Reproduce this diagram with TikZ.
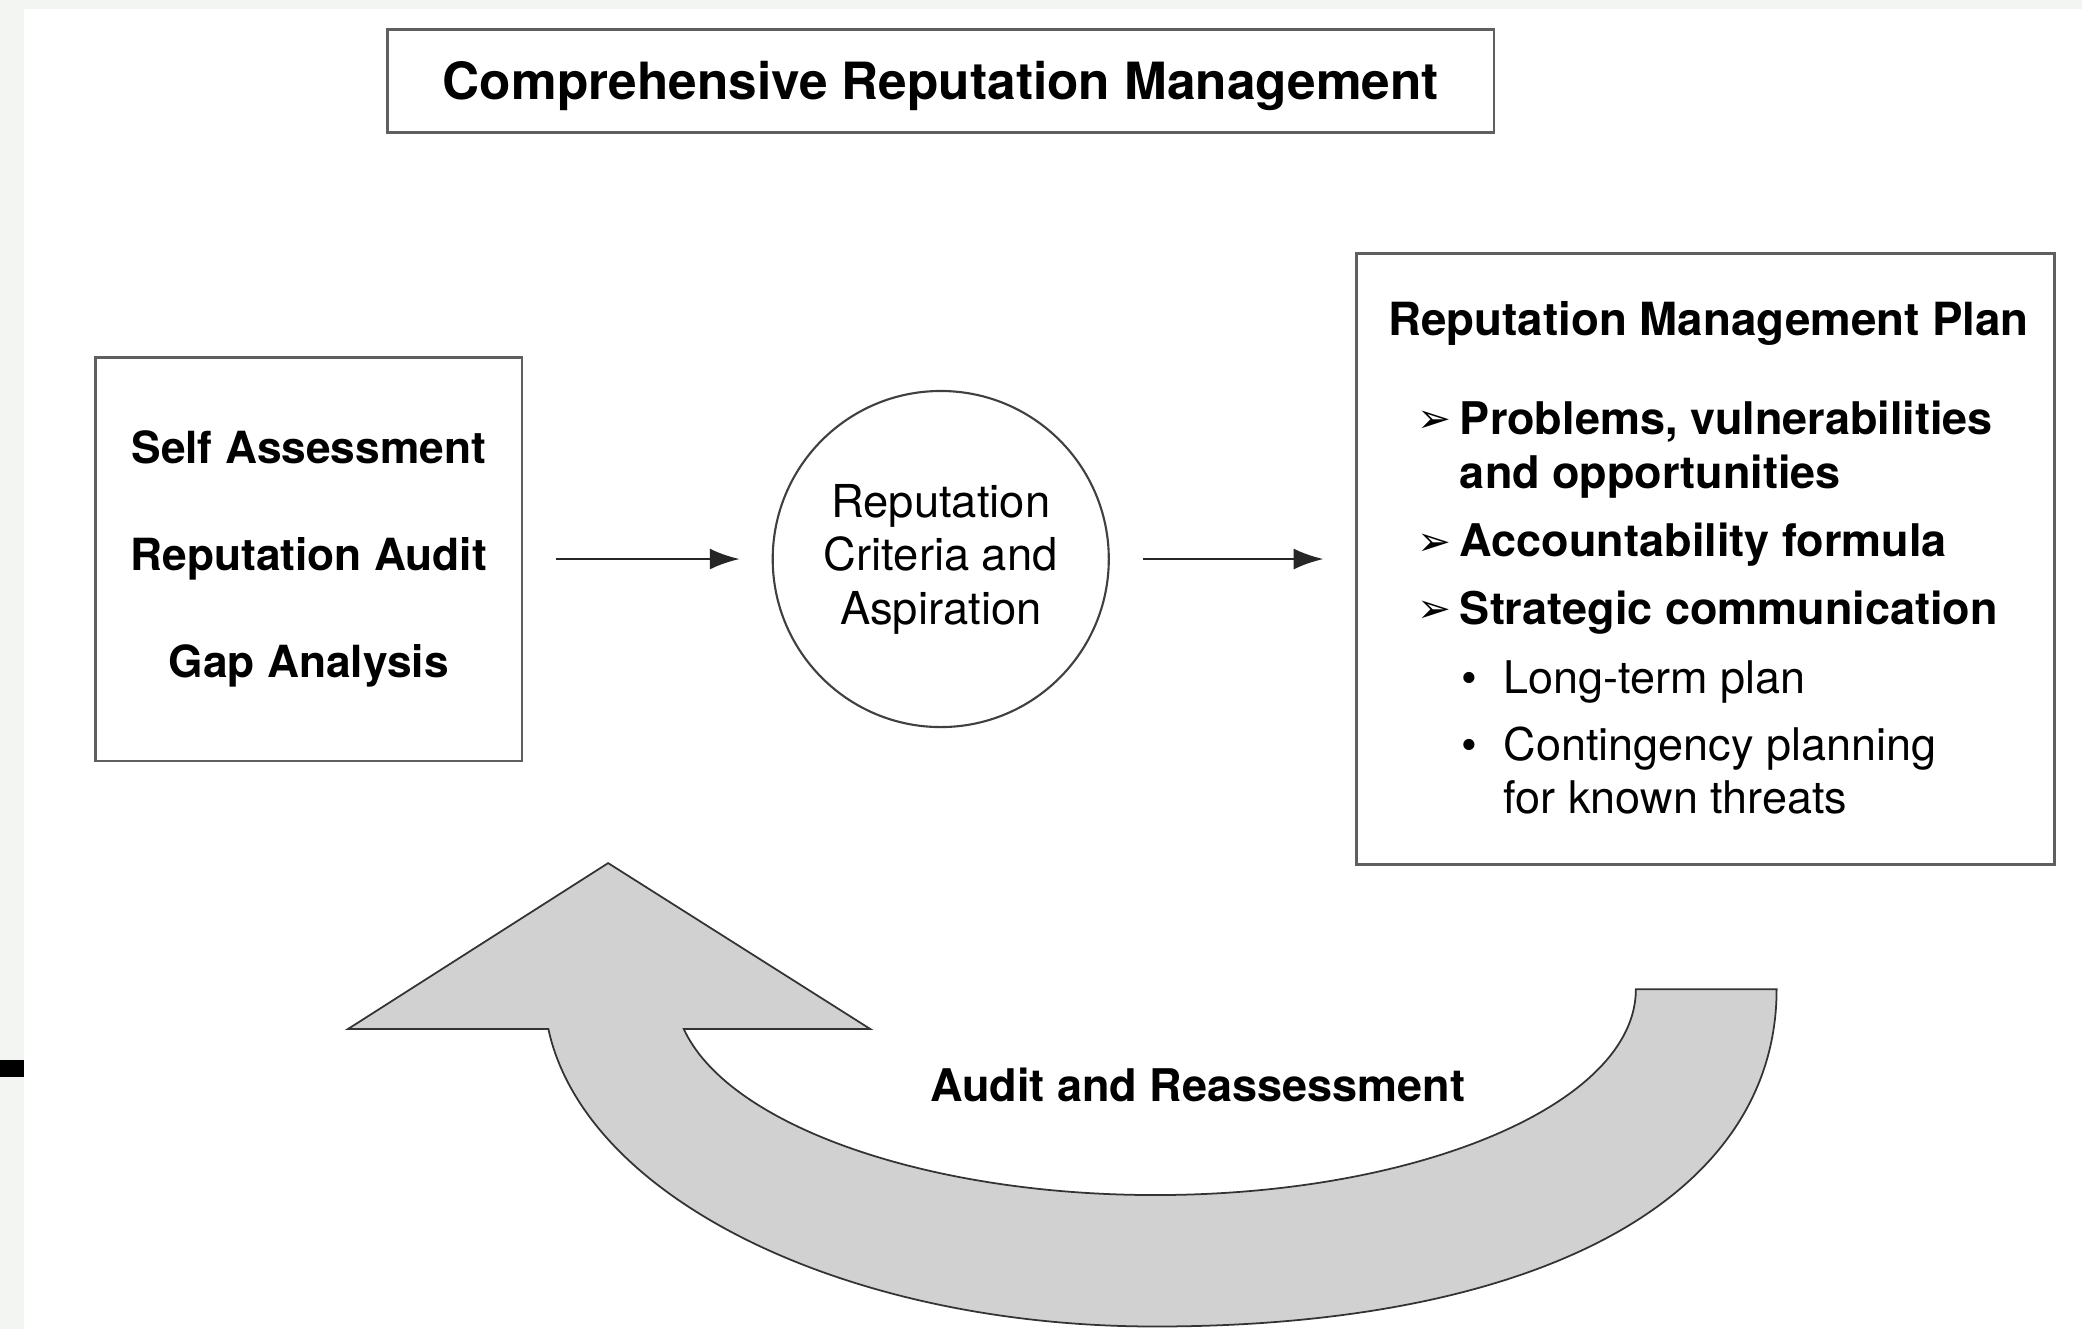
\documentclass[tikz,border=0pt]{standalone}
\usepackage{fontspec}
\setmainfont{TeX Gyre Heros}
\newfontfamily\symfont{DejaVu Sans}
\usepackage{tikz}
\usetikzlibrary{arrows.meta}

\definecolor{stripgray}{HTML}{F3F5F3}
\definecolor{arrowgray}{HTML}{D1D1D1}
\definecolor{linegray}{HTML}{5F5F5F}

\tikzset{
    boxnode/.style={draw=linegray, line width=0.8pt, inner sep=0pt},
    flowarrow/.style={-{Latex[length=8.5pt,width=6pt]}, black!85, line width=0.75pt,
        shorten <=0.33cm, shorten >=0.32cm},
    bigarrow/.style={fill=arrowgray, draw=black!80, line width=0.5pt},
    plantext/.style={anchor=base west, inner sep=0pt, font=\fontsize{12.8}{15.4}\selectfont\bfseries},
    subtext/.style={anchor=base west, inner sep=0pt, font=\fontsize{12.8}{15.4}\selectfont},
    markertext/.style={anchor=base west, inner sep=0pt, font=\symfont\fontsize{11.5}{13}\selectfont},
}

\begin{document}
\begin{tikzpicture}[x=0.01328cm, y=-0.01328cm]
    \useasboundingbox (0,0) rectangle (1568,1001);
    \fill[white] (0,0) rectangle (1568,1001);
    \fill[stripgray] (0,0) rectangle (18,1001);
    \fill[stripgray] (0,0) rectangle (1568,7);
    \fill[black] (0,798) rectangle (18,811);

    % title
    \node[boxnode, minimum width=11.06cm, minimum height=1.036cm, text height=10.5pt, text depth=0pt,
        font=\fontsize{14.6}{17}\selectfont\bfseries] (title) at (708.5,61) {Comprehensive Reputation Management};

    % three stages
    \node[boxnode, minimum width=4.263cm, minimum height=4.037cm, align=center,
        font=\fontsize{12.6}{30.5}\selectfont\bfseries] (assess) at (232.5,421)
        {Self Assessment\\Reputation Audit\\Gap Analysis};
    \node[circle, draw=black!75, line width=0.6pt, minimum size=3.36cm, inner sep=0pt, align=center,
        font=\fontsize{12.9}{15.25}\selectfont] (criteria) at (708.5,421)
        {Reputation\\Criteria and\\Aspiration};
    \node[boxnode, minimum width=6.972cm, minimum height=6.109cm] (plan) at (1284.5,421) {};

    \draw[flowarrow] (assess) -- (criteria);
    \draw[flowarrow] (criteria) -- (plan);

    % plan contents
    \node[plantext, font=\fontsize{13}{15.4}\selectfont\bfseries] (plantitle) at (1045,253) {Reputation Management Plan};
    \node[markertext] (m1) at (1067,326) {➢};
    \node[plantext] (p1) at (1099,327) {Problems, vulnerabilities};
    \node[plantext] (p1b) at (1099,368) {and opportunities};
    \node[markertext] (m2) at (1067,418) {➢};
    \node[plantext] (p2) at (1099,419) {Accountability formula};
    \node[markertext] (m3) at (1067,469) {➢};
    \node[plantext] (p3) at (1099,470) {Strategic communication};
    \node[subtext] (b1) at (1100,522) {\textbullet};
    \node[subtext] (s1) at (1132,522) {Long-term plan};
    \node[subtext] (b2) at (1100,573) {\textbullet};
    \node[subtext] (s2) at (1132,573) {Contingency planning};
    \node[subtext] (s2b) at (1132,613) {for known threats};

    % feedback loop
    \filldraw[bigarrow] (458,650) -- (655.5,775) -- (515,775)
        .. controls (548,847) and (697,900) .. (870,900)
        .. controls (1070,900) and (1232,830.6) .. (1232,745)
        -- (1338,745)
        .. controls (1338,902) and (1160,999) .. (870,999)
        .. controls (637,999) and (440.6,902.5) .. (413,775)
        -- (262,775) -- cycle;
    \node[font=\fontsize{12.8}{15}\selectfont\bfseries] (reaudit) at (902,817) {Audit and Reassessment};
\end{tikzpicture}
\end{document}
